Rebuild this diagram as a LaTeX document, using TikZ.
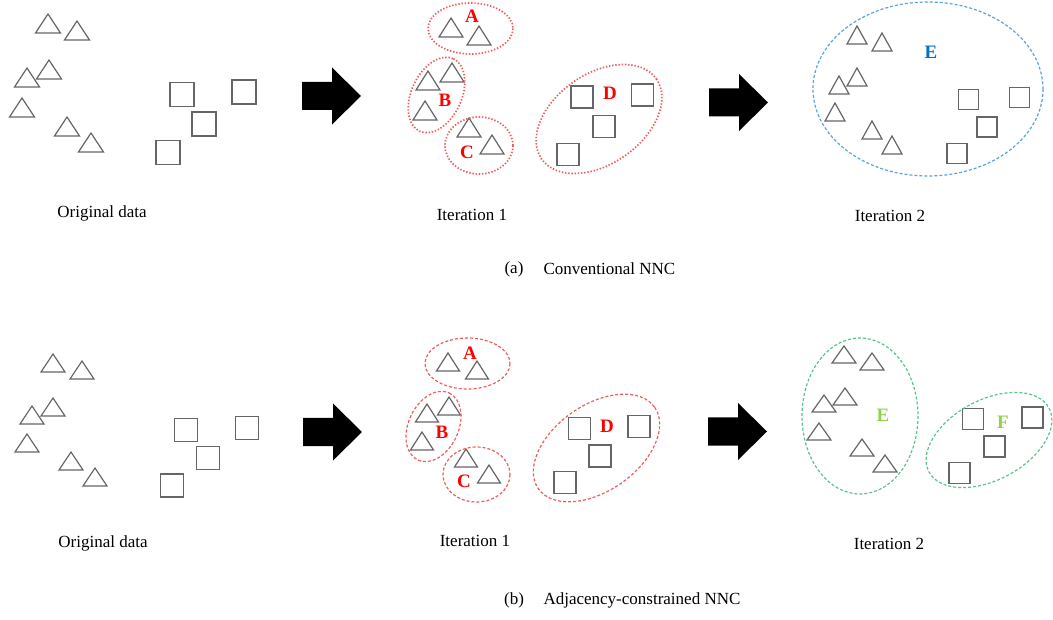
\documentclass[tikz,border=0pt]{standalone}
\usepackage{fontspec}
\setmainfont{Liberation Serif}
\usepackage{tikz}
\usetikzlibrary{arrows.meta,positioning,calc}

\definecolor{ringred}{RGB}{242,92,92}
\definecolor{ringblue}{RGB}{92,162,222}
\definecolor{ringgreen}{RGB}{88,196,140}
\definecolor{labred}{RGB}{255,0,0}
\definecolor{labblue}{RGB}{0,112,192}
\definecolor{labgreen}{RGB}{146,208,80}

\newcommand{\tri}[4]{\draw[pt] (#1,#2) -- ++(-#3/2,#4) -- ++(#3,0) -- cycle;}
\newcommand{\sq}[3]{\draw[pt] (#1-#3/2,#2-#3/2) rectangle ++(#3,#3);}
\newcommand{\fatarrow}[2]{\fill (#1,#2-14) -- ++(30,0) -- ++(0,-14.5) -- (#1+59,#2) -- (#1+30,#2+28.5) -- ++(0,-14.5) -- (#1,#2+14) -- cycle;}

\begin{document}
\begin{tikzpicture}[x=1pt,y=-1pt,
    pt/.style={draw=black!60,line width=1.2pt},
    ringdot/.style={line width=1.7pt,dash pattern=on 1.4pt off 1.8pt},
    ringdash/.style={line width=1.2pt,dash pattern=on 3pt off 2pt},
    lab/.style={font=\fontsize{19}{20}\selectfont\bfseries},
    font=\fontsize{17}{20}\selectfont]

    \useasboundingbox (0,0) rectangle (1053,620);

    % (a) conventional NNC
    \foreach \x/\y in {48/14,77/21,49/60,27/68,22/98,67/117,91/133}
        {\tri{\x}{\y}{25}{19}}
    \foreach \x/\y in {182/94.5,244/92,204/124,168/152.5}
        {\sq{\x}{\y}{24}}
    \node (orig1) at (102,213) {Original data};

    \fatarrow{302}{96}

    \foreach \x/\y in {451/18,479/26,428/71,452/63,425/101,469/118,492/135}
        {\tri{\x}{\y}{24}{19}}
    \foreach \x/\y in {582/97,642.5/95,604/126.5,568/154.5}
        {\sq{\x}{\y}{22}}
    \draw[ringred,ringdot] (470.5,28.5) ellipse [x radius=42.5, y radius=25.5];
    \draw[ringred,ringdot,rotate around={65:(436.5,95)}] (436.5,95) ellipse [x radius=40, y radius=25];
    \draw[ringred,ringdot] (479,145.5) ellipse [x radius=34, y radius=28.5];
    \draw[ringred,ringdot,rotate around={35:(599,119)}] (599,119) ellipse [x radius=70, y radius=45];
    \node[lab,labred] (a1) at (472,16) {A};
    \node[lab,labred] (b1) at (445,100) {B};
    \node[lab,labred] (c1) at (467,152) {C};
    \node[lab,labred] (d1) at (610,93) {D};
    \node (iter1a) at (472,215) {Iteration 1};

    \fatarrow{709}{102.5}

    \foreach \x/\y in {857/26,882/33,857/68,839/76,835/103,872/121,892/136}
        {\tri{\x}{\y}{20}{18}}
    \foreach \x/\y in {968.5/99.5,1019.5/97.5,987/127,957/153.5}
        {\sq{\x}{\y}{20}}
    \draw[ringblue,ringdash] (928,89) ellipse [x radius=115, y radius=87];
    \node[lab,labblue] (e1) at (931,52) {E};
    \node (iter2a) at (890,216) {Iteration 2};

    \node (capa) at (514,269) {(a)};
    \node[anchor=west] (capatext) at (540,269) {Conventional NNC};

    % (b) adjacency-constrained NNC
    \foreach \x/\y in {53/354,82/361,53/398,32/406,27/434,71/452,95/468}
        {\tri{\x}{\y}{24}{18}}
    \foreach \x/\y in {186/430,247/428,208/458,172/485.5}
        {\sq{\x}{\y}{23}}
    \node (orig2) at (103,543) {Original data};

    \fatarrow{303}{432}

    \foreach \x/\y in {448/353,477/361,427/404,449/397,422/432,466/449,489/465}
        {\tri{\x}{\y}{23}{18}}
    \foreach \x/\y in {579.5/428.5,639/426.5,600/456,565/482.5}
        {\sq{\x}{\y}{22}}
    \draw[ringred,ringdash] (467.5,363.5) ellipse [x radius=42.5, y radius=25.5];
    \draw[ringred,ringdash,rotate around={65:(433.5,426.5)}] (433.5,426.5) ellipse [x radius=37, y radius=25];
    \draw[ringred,ringdash] (476.5,474.5) ellipse [x radius=33.5, y radius=27.5];
    \draw[ringred,ringdash,rotate around={35:(596.5,448)}] (596.5,448) ellipse [x radius=71, y radius=43];
    \node[lab,labred] (a2) at (470,353) {A};
    \node[lab,labred] (b2) at (442,432) {B};
    \node[lab,labred] (c2) at (464,481) {C};
    \node[lab,labred] (d2) at (607,426) {D};
    \node (iter1b) at (475,541) {Iteration 1};

    \fatarrow{708}{431.5}

    \foreach \x/\y in {844/346,872/353,845/388,824/395,819/423,862/439,885/455}
        {\tri{\x}{\y}{24}{17}}
    \foreach \x/\y in {973/419,1032.5/417.5,994.5/446.5,959.5/473}
        {\sq{\x}{\y}{21}}
    \draw[ringgreen,ringdash] (860,416) ellipse [x radius=58, y radius=78];
    \draw[ringgreen,ringdash,rotate around={28:(989,440)}] (989,440) ellipse [x radius=68, y radius=40];
    \node[lab,labgreen] (e2) at (883,415) {E};
    \node[lab,labgreen] (f2) at (1003,422) {F};
    \node (iter2b) at (889,544) {Iteration 2};

    \node (capb) at (514,600) {(b)};
    \node[anchor=west] (capbtext) at (540,600) {Adjacency-constrained NNC};
\end{tikzpicture}
\end{document}
